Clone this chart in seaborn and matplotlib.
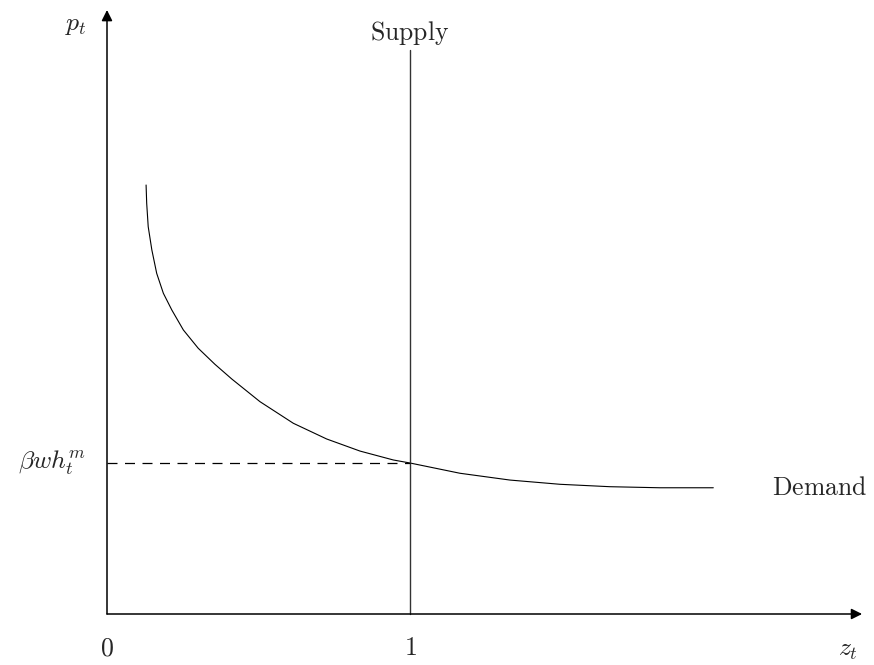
import matplotlib
matplotlib.use("Agg")
import matplotlib.pyplot as plt
import seaborn as sns
import pandas as pd

# Demand curve points (z_t, p_t in units of beta*w*h)
demand_z = [0.129, 0.131, 0.136, 0.148, 0.164, 0.186, 0.214, 0.252, 0.301, 0.356, 0.412,
            0.505, 0.615, 0.725, 0.835, 0.945, 1.000, 1.165, 1.330, 1.495, 1.660, 1.825, 2.001]
demand_p = [2.841, 2.720, 2.565, 2.411, 2.256, 2.124, 2.013, 1.881, 1.760, 1.654, 1.556,
            1.406, 1.263, 1.159, 1.079, 1.020, 1.000, 0.932, 0.887, 0.859, 0.843, 0.836, 0.836]

supply_z = [1.0, 1.0]
supply_p = [0.0, 3.735]

equil_z = [0.0, 1.0]
equil_p = [1.0, 1.0]

x_ticks = [0, 1]
x_tick_labels = ["0", "1"]

sns.set_theme(style="white")
plt.rcParams["mathtext.fontset"] = "cm"
plt.rcParams["font.family"] = ["DejaVu Serif"]

fig = plt.figure(figsize=(8.74, 6.65), dpi=100)
ax = fig.add_axes([0, 0, 1, 1])
ax.set_xlim(-107 / 303, (874 - 107) / 303)
ax.set_ylim((614 - 665) / 151, 614 / 151)
ax.set_axis_off()

dem = pd.DataFrame({"z": demand_z, "p": demand_p})
sns.lineplot(data=dem, x="z", y="p", ax=ax, color="black", lw=0.8, estimator=None, sort=False)
sns.lineplot(x=supply_z, y=supply_p, ax=ax, color="#333333", lw=1.0, estimator=None, sort=False)
sns.lineplot(x=equil_z, y=equil_p, ax=ax, color="black", lw=0.9, estimator=None, sort=False,
             linestyle=(0, (8, 6)))

# axes with arrows
arrow = dict(arrowstyle="-|>", mutation_scale=16, lw=1.1, color="black", shrinkA=0, shrinkB=0)
ax.annotate("", xy=(2.492, 0), xytext=(0, 0), arrowprops=arrow)
ax.annotate("", xy=(0, 4.0), xytext=(0, 0), arrowprops=arrow)

fs = 18.5
ax.text(-0.102, 3.907, r"$p_t$", fontsize=fs, ha="center", va="center")
ax.text(1.0, 3.848, r"$\mathrm{Supply}$", fontsize=fs, ha="center", va="center")
ax.text(2.353, 0.84, r"$\mathrm{Demand}$", fontsize=fs, ha="center", va="center")
ax.text(-0.182, 1.0, r"$\beta w h_t^m$", fontsize=fs, ha="center", va="center")
for xt, lab in zip(x_ticks, x_tick_labels):
    ax.text(xt, -0.225, r"$\mathrm{%s}$" % lab, fontsize=fs, ha="center", va="center")
ax.text(2.446, -0.238, r"$z_t$", fontsize=fs, ha="center", va="center")

fig.savefig("out.png", dpi=100)
